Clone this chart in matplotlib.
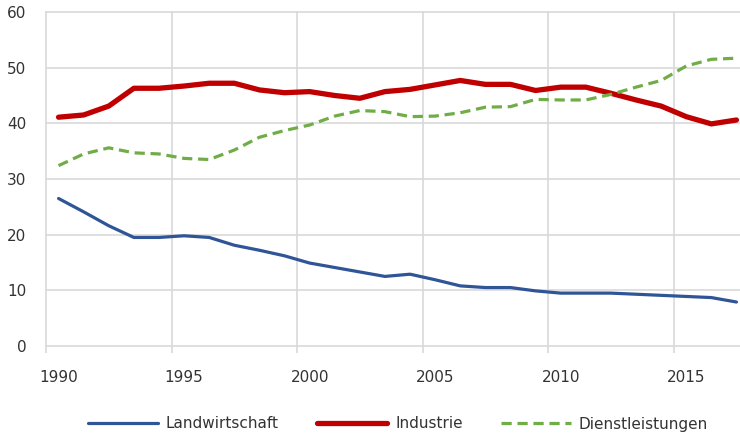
import matplotlib
matplotlib.use("Agg")
import matplotlib.pyplot as plt
import numpy as np

years = list(range(1990, 2018))
landwirtschaft = [26.5, 24.1, 21.6, 19.5, 19.5, 19.8, 19.5, 18.1, 17.2, 16.2,
                  14.9, 14.1, 13.3, 12.5, 12.9, 11.9, 10.8, 10.5, 10.5, 9.9,
                  9.5, 9.5, 9.5, 9.3, 9.1, 8.9, 8.7, 7.9]
industrie = [41.1, 41.5, 43.1, 46.3, 46.3, 46.7, 47.2, 47.2, 46.0, 45.5,
             45.7, 45.0, 44.5, 45.7, 46.1, 46.9, 47.7, 47.0, 47.0, 45.9,
             46.5, 46.5, 45.4, 44.2, 43.1, 41.2, 39.9, 40.6]
dienstleistungen = [32.4, 34.5, 35.6, 34.7, 34.5, 33.7, 33.5, 35.2, 37.5, 38.7,
                    39.7, 41.3, 42.3, 42.1, 41.2, 41.3, 41.9, 42.9, 43.0, 44.3,
                    44.2, 44.2, 45.2, 46.5, 47.7, 50.3, 51.5, 51.7]
series_names = ["Landwirtschaft", "Industrie", "Dienstleistungen"]
yticks = [0, 10, 20, 30, 40, 50, 60]

plt.rcParams['font.family'] = ['DejaVu Sans']
text_color = '#333333'
grid_color = '#d9d9d9'

fig = plt.figure(figsize=(7.40, 4.34), dpi=100)
ax = fig.add_axes([46/740, 88/434, 703/740, 334/434])

idx = np.arange(len(years))
ax.plot(idx, landwirtschaft, color='#2f5597', lw=2.3, label=series_names[0],
        solid_joinstyle='round', solid_capstyle='round', zorder=3)
ax.plot(idx, industrie, color='#c00000', lw=3.8, label=series_names[1],
        solid_joinstyle='round', solid_capstyle='round', zorder=3)
ax.plot(idx, dienstleistungen, color='#70ad47', lw=2.3, label=series_names[2],
        dashes=(3.2, 1.8), zorder=3)

ax.set_xlim(-0.5, len(years) - 0.5)
ax.set_ylim(0, 60)
ax.set_yticks(yticks)
ax.set_yticklabels([str(v) for v in yticks])

label_idx = [i for i, y in enumerate(years) if y % 5 == 0]
ax.set_xticks(label_idx)
ax.set_xticklabels([str(years[i]) for i in label_idx])
ax.set_xticks([i - 0.5 for i in label_idx], minor=True)

ax.grid(False)
for v in yticks:
    ax.axhline(v, color=grid_color, lw=1.2, zorder=0, clip_on=False)
for i in label_idx:
    ax.axvline(i - 0.5, color=grid_color, lw=1.2, zorder=0, clip_on=False)

for s in ax.spines.values():
    s.set_visible(False)

ax.tick_params(axis='x', which='major', length=0, pad=17, labelsize=11, labelcolor=text_color)
ax.tick_params(axis='x', which='minor', length=5, width=1.2, color=grid_color)
ax.tick_params(axis='y', length=0, pad=14, labelsize=11, labelcolor=text_color)

leg = fig.legend(loc='center', bbox_to_anchor=(398/740, 1 - 424/434), ncol=3,
                 frameon=False, fontsize=11, handlelength=4.6, handletextpad=0.5,
                 columnspacing=2.5, labelcolor=text_color)

fig.savefig("out.png", dpi=100)
